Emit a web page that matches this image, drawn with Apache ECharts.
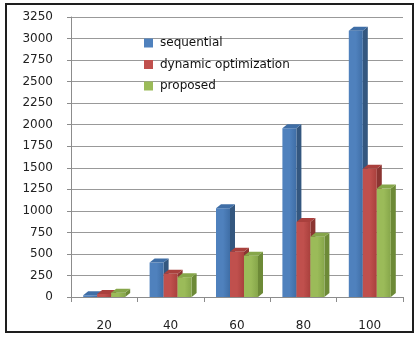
<!DOCTYPE html>
<html>
<head>
<meta charset="utf-8">
<script src="https://cdn.jsdelivr.net/npm/echarts@6/dist/echarts.min.js"></script>
<style>
  html, body { margin: 0; padding: 0; background: #fff; }
  #chart { position: absolute; left: 0; top: 0; width: 419px; height: 338px; }
  #frame { position: absolute; left: 5px; top: 3px; width: 405px; height: 326px;
           border: 2px solid #1e1e1e; pointer-events: none; }
</style>
</head>
<body>
<div id="chart"></div>
<div id="frame"></div>
<script>
  // data
  var categories = ['20', '40', '60', '80', '100']
  var seriesNames = ['sequential', 'dynamic optimization', 'proposed']
  var sequential = [20, 400, 1030, 1960, 3090]
  var dynamicOpt = [35, 270, 525, 870, 1490]
  var proposed = [50, 230, 480, 700, 1260]
  var yTicks = { min: 0, max: 3250, step: 250 }

  var colors = ['#4f81bd', '#c0504d', '#9bbb59']
  var sideColors = ['#34577f', '#8b3532', '#6d8a37']
  var topColors = ['#3f6ea6', '#a9403d', '#86a64a']

  var BAR_W = 14, DX = 5, DY = 4

  function makeRender (idx) {
    return function (params, api) {
      var base = api.coord([api.value(0), 0])
      var top = api.coord([api.value(0), api.value(1)])
      var x0 = base[0] + (idx - 1) * BAR_W - BAR_W / 2
      var x1 = x0 + BAR_W
      var yt = top[1], yb = base[1]
      return {
        type: 'group',
        children: [
          {
            type: 'polygon',
            shape: { points: [[x1, yt], [x1 + DX, yt - DY], [x1 + DX, yb - DY], [x1, yb]] },
            style: { fill: sideColors[idx] },
          },
          {
            type: 'rect',
            shape: { x: x0, y: yt, width: BAR_W, height: yb - yt },
            style: {
              fill: new echarts.graphic.LinearGradient(0, 0, 1, 0, [
                { offset: 0, color: colors[idx] },
                { offset: 0.5, color: colors[idx] },
                { offset: 1, color: topColors[idx] },
              ]),
            },
          },
          {
            type: 'polygon',
            shape: { points: [[x0, yt], [x1, yt], [x1 + DX, yt - DY], [x0 + DX, yt - DY]] },
            style: { fill: topColors[idx] },
          },
        ],
      }
    }
  }

  function toData (arr) {
    var out = []
    for (var i = 0; i < arr.length; i++) {
      out.push([i, arr[i]])
    }
    return out
  }

  var values = [sequential, dynamicOpt, proposed]
  var series = []
  for (var i = 0; i < values.length; i++) {
    series.push({
      name: seriesNames[i],
      type: 'custom',
      renderItem: makeRender(i),
      itemStyle: { color: colors[i] },
      encode: { x: 0, y: 1 },
      data: toData(values[i]),
    })
  }

  var chart = echarts.init(document.getElementById('chart'))
  var axisFont = {
    color: '#222',
    fontFamily: 'DejaVu Sans',
    fontSize: 12,
  }
  var option = {
    animation: false,
    legend: {
      orient: 'vertical',
      left: 139,
      top: 32,
      icon: 'rect',
      itemWidth: 9,
      itemHeight: 9,
      itemGap: 9.5,
      textStyle: {
        color: '#111',
        fontFamily: 'DejaVu Sans',
        fontSize: 12,
        padding: [0, 0, 0, 2],
      },
      data: seriesNames,
    },
    grid: {
      left: 71,
      right: 16,
      top: 17,
      bottom: 41,
    },
    xAxis: {
      type: 'category',
      data: categories,
      boundaryGap: true,
      axisLine: { show: true, lineStyle: { color: '#8c8c8c' } },
      axisTick: { show: true, length: 5, lineStyle: { color: '#8c8c8c' } },
      axisLabel: Object.assign({ margin: 23 }, axisFont),
    },
    yAxis: {
      type: 'value',
      min: yTicks.min,
      max: yTicks.max,
      interval: yTicks.step,
      axisLine: { show: true, lineStyle: { color: '#8c8c8c' } },
      axisTick: { show: true, length: 4, lineStyle: { color: '#8c8c8c' } },
      splitLine: { show: true, lineStyle: { color: '#999', width: 1.2 } },
      axisLabel: Object.assign({
        margin: 18,
        padding: [4, 0, 0, 0],
        formatter: function (v) { return String(v) },
      }, axisFont),
    },
    series: series,
  }
  chart.setOption(option)
</script>
</body>
</html>
